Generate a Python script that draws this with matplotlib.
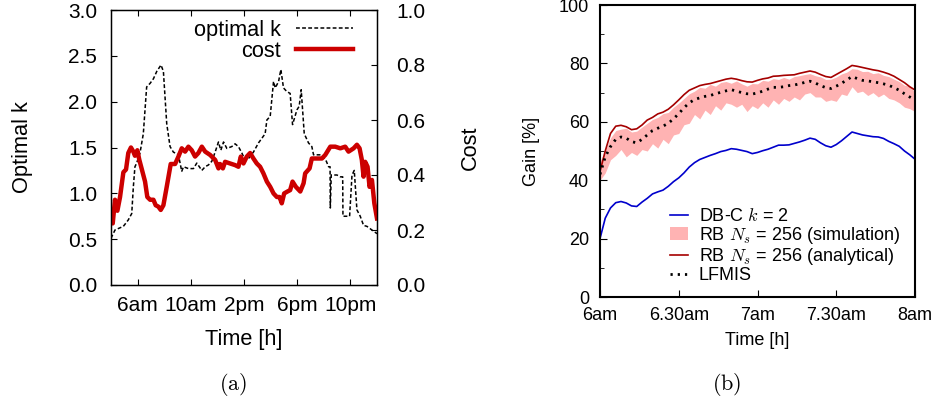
import matplotlib.pyplot as plt
import numpy as np

plt.rcParams['font.family'] = ['Liberation Sans', 'DejaVu Sans']
plt.rcParams['mathtext.fontset'] = 'cm'

# ---- panel (a): optimal k and cost over the day ----
k_hours = [4.0, 4.3, 4.93, 5.3, 5.56, 5.68, 5.8, 5.93, 6.18, 6.43, 6.68, 6.94, 7.19, 7.44,
           7.76, 7.94, 8.19, 8.44, 8.69, 9.07, 9.32, 9.45, 9.82, 10.2, 10.45, 10.83, 11.08,
           11.33, 11.58, 11.83, 12.08, 12.26, 12.46, 12.71, 13.08, 13.33, 13.58, 13.84, 14.09,
           14.34, 14.71, 15.09, 15.34, 15.59, 15.72, 15.97, 16.22, 16.35, 16.6, 16.77, 16.97,
           17.22, 17.47, 17.65, 17.98, 18.15, 18.3, 18.53, 18.85, 19.1, 19.23, 19.86, 20.19,
           20.36, 20.47, 20.49, 20.56, 20.99, 21.24, 21.42, 21.44, 21.74, 21.94, 22.12, 22.29,
           22.49, 22.74, 22.99, 23.24, 23.62, 24.0]
k_values = [0.51, 0.6, 0.64, 0.71, 0.78, 1.07, 1.29, 1.33, 1.44, 1.65, 2.16, 2.2, 2.25, 2.33,
            2.4, 2.33, 1.76, 1.51, 1.45, 1.42, 1.24, 1.29, 1.27, 1.27, 1.33, 1.25, 1.29,
            1.31, 1.35, 1.45, 1.56, 1.47, 1.56, 1.49, 1.51, 1.54, 1.51, 1.44, 1.36,
            1.38, 1.45, 1.55, 1.6, 1.65, 1.8, 1.84, 2.22, 2.15, 2.22, 2.35, 2.15,
            2.11, 2.09, 1.75, 1.91, 1.95, 2.13, 1.65, 1.55, 1.51, 1.42, 1.42, 1.35,
            1.29, 1.29, 0.84, 1.2, 1.2, 1.18, 1.18, 0.75, 0.75, 0.75, 1.2, 1.25,
            0.82, 0.75, 0.65, 0.64, 0.6, 0.56]

cost_hours = [4.0, 4.13, 4.3, 4.48, 4.68, 4.93, 5.13, 5.3, 5.5, 5.68, 5.8, 5.98, 6.13, 6.3,
              6.56, 6.73, 6.94, 7.19, 7.36, 7.56, 7.74, 7.94, 8.19, 8.49, 8.82, 9.07, 9.32,
              9.57, 9.82, 10.07, 10.32, 10.57, 10.83, 11.08, 11.45, 11.83, 12.08, 12.2, 12.41,
              12.58, 12.95, 13.33, 13.58, 13.76, 13.96, 14.21, 14.46, 14.71, 14.96, 15.21,
              15.46, 15.72, 15.97, 16.22, 16.47, 16.67, 16.84, 17.02, 17.27, 17.47, 17.65,
              17.9, 18.23, 18.48, 18.6, 18.93, 19.1, 19.36, 19.86, 20.11, 20.49, 20.86, 21.24,
              21.61, 21.86, 22.24, 22.49, 22.69, 22.86, 22.99, 23.11, 23.29, 23.44, 23.62,
              23.8, 24.0]
cost_values = [0.248, 0.224, 0.31, 0.27, 0.32, 0.41, 0.42, 0.48, 0.50, 0.485, 0.47, 0.49,
               0.455, 0.424, 0.376, 0.32, 0.31, 0.31, 0.29, 0.285, 0.273, 0.29, 0.357, 0.44,
               0.44, 0.467, 0.497, 0.485, 0.503, 0.49, 0.467, 0.48, 0.503, 0.485, 0.473, 0.455,
               0.424, 0.44, 0.424, 0.448, 0.442, 0.436, 0.43, 0.467, 0.442, 0.467, 0.48, 0.46,
               0.442, 0.43, 0.406, 0.376, 0.357, 0.333, 0.32, 0.32, 0.297, 0.333, 0.34, 0.345,
               0.376, 0.357, 0.34, 0.37, 0.406, 0.424, 0.46, 0.46, 0.46, 0.473, 0.503, 0.503,
               0.497, 0.503, 0.485, 0.497, 0.51, 0.497, 0.455, 0.394, 0.448, 0.43, 0.357,
               0.382, 0.297, 0.242]

day_ticks = [6, 10, 14, 18, 22]
day_labels = ['6am', '10am', '2pm', '6pm', '10pm']

# ---- panel (b): gain between 6am and 8am (minutes after 6am) ----
minutes = np.arange(0, 121, 2)
dbc_k2 = [20, 27, 30.5, 32.3, 32.7, 32.2, 31.2, 31.0, 32.5, 33.8, 35.3, 36.0, 36.6, 37.9, 39.5,
          40.8, 42.5, 44.5, 46.0, 47.1, 47.8, 48.5, 49.1, 49.8, 50.2, 50.8, 50.6, 50.2, 49.8,
          49.1, 49.5, 50.1, 50.6, 51.3, 52.0, 52.0, 52.1, 52.6, 53.1, 53.7, 54.4, 54.0, 52.8,
          51.8, 51.3, 52.2, 53.5, 55.0, 56.5, 56.0, 55.5, 55.2, 54.9, 54.8, 54.3, 53.3, 52.5,
          51.6, 50.0, 48.7, 47.2]
rb_sim_low = [40, 42.5, 47, 48.5, 50.5, 48.0, 49.5, 48.5, 50.5, 50.0, 52.5, 51.0, 54.0, 52.5,
              55.5, 56.0, 59.0, 59.5, 62.5, 61.0, 64.0, 62.5, 65.5, 64.0, 66.5, 66.0, 65.0,
              66.0, 63.5, 65.5, 64.5, 66.5, 65.0, 67.5, 66.0, 68.0, 67.0, 68.5, 67.5, 69.5,
              70.0, 68.5, 68.5, 67.0, 67.5, 67.0, 69.5, 69.0, 72.0, 70.0, 70.5, 69.0, 70.0,
              68.5, 69.5, 68.0, 67.5, 66.5, 65.0, 64.5, 63.5]
rb_sim_high = [46.5, 50, 54.5, 57, 57.5, 57.8, 56.5, 56.8, 58.2, 59.5, 60.8, 61.5, 62.8, 63.2,
               65.0, 66.4, 68.0, 69.6, 70.5, 71.8, 71.5, 72.8, 72.2, 73.5, 73.8, 73.2, 74.0,
               73.0, 72.2, 73.1, 73.0, 74.2, 73.9, 74.8, 74.5, 75.2, 74.6, 75.5, 75.8, 76.2,
               76.5, 75.8, 75.4, 74.5, 74.6, 75.3, 76.4, 77.0, 78.2, 78.0, 77.2, 77.3, 76.5,
               76.8, 75.9, 75.5, 74.6, 73.8, 72.5, 72.2, 70.0]
rb_analytical = [43, 50, 56, 58.5, 58.8, 58.3, 57.3, 57.6, 58.9, 60.6, 61.5, 62.7, 63.3, 64.3,
                 65.8, 67.5, 69.3, 70.8, 71.6, 72.4, 72.8, 73.1, 73.6, 74.1, 74.6, 74.9, 74.6,
                 74.1, 73.7, 73.6, 74.2, 74.7, 75.0, 75.6, 75.7, 75.9, 76.0, 76.1, 76.6, 77.0,
                 77.4, 77.0, 76.2, 75.5, 75.2, 76.2, 77.2, 78.2, 79.3, 79.0, 78.6, 78.2, 77.8,
                 77.5, 77.0, 76.4, 75.6, 74.5, 73.4, 72.0, 70.9]
lfmis = [42, 48, 51.5, 54, 54.8, 54.4, 53.2, 52.8, 54.0, 55.5, 57.0, 57.8, 58.5, 59.5, 61.0,
         62.8, 64.8, 66.5, 67.6, 68.2, 68.7, 69.0, 69.6, 70.1, 70.6, 71.0, 70.5, 70.0, 69.6,
         69.5, 69.9, 70.5, 71.2, 71.8, 71.8, 72.0, 72.4, 72.6, 73.0, 73.5, 73.9, 73.3, 72.4,
         71.7, 71.4, 72.2, 73.2, 74.3, 75.5, 74.8, 74.2, 74.0, 73.7, 73.4, 73.0, 72.5, 71.7,
         70.8, 69.6, 68.5, 67.4]
morning_ticks = [0, 30, 60, 90, 120]
morning_labels = ['6am', '6.30am', '7am', '7.30am', '8am']

fig = plt.figure(figsize=(9.36, 4.05), dpi=100)

# panel (a)
ax1 = fig.add_axes([111 / 936, 1 - 285 / 405, 266 / 936, 275 / 405])
ax2 = ax1.twinx()
l_k, = ax1.plot(k_hours, k_values, color='black', lw=1.1, dashes=(2.5, 1.5), label='optimal k')
l_c, = ax2.plot(cost_hours, cost_values, color='#cc0000', lw=3.2, label='cost')
ax1.set_xlim(4, 24)
ax1.set_ylim(0, 3)
ax2.set_ylim(0, 1)
ax1.set_yticks(np.arange(0, 3.01, 0.5))
ax1.set_yticklabels(['%.1f' % v for v in np.arange(0, 3.01, 0.5)])
ax2.set_yticks(np.arange(0, 1.01, 0.2))
ax2.set_yticklabels(['%.1f' % v for v in np.arange(0, 1.01, 0.2)])
ax1.set_xticks(day_ticks)
ax1.set_xticklabels(day_labels)
ax1.tick_params(axis='x', direction='in', top=True, length=4, labelsize=15, pad=8)
ax1.tick_params(axis='y', direction='in', length=4, labelsize=15, pad=10)
ax2.tick_params(axis='y', direction='in', length=4, labelsize=15, pad=14)
ax1.set_xlabel('Time [h]', fontsize=15.7)
ax1.set_ylabel('Optimal k', fontsize=15.7)
ax2.set_ylabel('Cost', fontsize=15.7)
ax1.xaxis.set_label_coords(0.5, -0.16)
ax1.yaxis.set_label_coords(-0.295, 0.5)
ax2.yaxis.set_label_coords(1.31, 0.5)
for sp in ax2.spines.values():
    sp.set_linewidth(1.0)
ax1.legend(handles=[l_k, l_c], loc='upper right', bbox_to_anchor=(0.91, 0.965),
           frameon=False, markerfirst=False, fontsize=15.7, borderpad=0,
           borderaxespad=0, handlelength=2.6, handletextpad=0.7, labelspacing=0.0)

# panel (b)
ax3 = fig.add_axes([600 / 936, 1 - 297 / 405, 315 / 936, 292 / 405])
band = ax3.fill_between(minutes, rb_sim_low, rb_sim_high, color='#ffb3b3', lw=0,
                        label='RB $N_s$ = 256 (simulation)')
l_b, = ax3.plot(minutes, dbc_k2, color='#0000cc', lw=1.2, label='DB-C $k$ = 2')
l_a, = ax3.plot(minutes, rb_analytical, color='#a50000', lw=1.2,
                label='RB $N_s$ = 256 (analytical)')
l_l, = ax3.plot(minutes, lfmis, color='black', lw=2, linestyle=(0, (0.8, 1.8)), label='LFMIS')
ax3.set_xlim(0, 120)
ax3.set_ylim(0, 100)
ax3.set_xticks(morning_ticks)
ax3.set_xticklabels(morning_labels)
ax3.set_yticks(range(0, 101, 20))
ax3.set_yticks(range(10, 100, 20), minor=True)
ax3.tick_params(axis='both', which='both', direction='in', labelsize=13)
ax3.tick_params(axis='x', length=5, pad=7)
ax3.tick_params(axis='y', which='major', length=5, pad=8)
ax3.tick_params(axis='y', which='minor', length=3)
ax3.set_xlabel('Time [h]', fontsize=13)
ax3.set_ylabel('Gain [%]', fontsize=13)
ax3.xaxis.set_label_coords(0.5, -0.12)
ax3.yaxis.set_label_coords(-0.19, 0.5)
for sp in ax3.spines.values():
    sp.set_linewidth(1.5)
ax3.legend(handles=[l_b, band, l_a, l_l], loc='upper left', bbox_to_anchor=(0.222, 0.305),
           frameon=False, fontsize=13, borderpad=0, borderaxespad=0,
           handlelength=1.0, handletextpad=0.6, labelspacing=0.0)

fig.text(233 / 936, 1 - 385 / 405, r'$\mathrm{(a)}$', ha='center', va='center', fontsize=16)
fig.text(727 / 936, 1 - 385 / 405, r'$\mathrm{(b)}$', ha='center', va='center', fontsize=16)

fig.savefig('out.png', dpi=100)
